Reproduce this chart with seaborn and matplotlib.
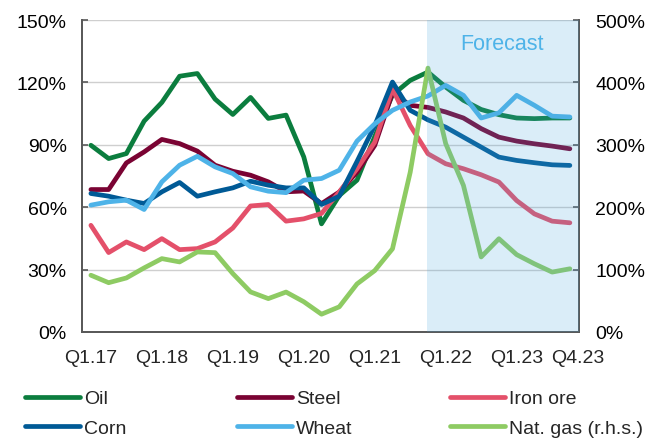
"""Commodity price index chart with forecast shading."""

import matplotlib.pyplot as plt
import pandas as pd
import seaborn as sns
from matplotlib.lines import Line2D
from matplotlib.ticker import FuncFormatter, MultipleLocator

# Quarterly values, Q1.17 .. Q4.23 (28 quarters), % of base.
quarters = [f"Q{q}.{y}" for y in range(17, 24) for q in range(1, 5)]
oil = [89.8, 83.4, 85.8, 101.4, 110.4, 123.0, 124.3, 112.0, 104.6, 112.8,
       102.7, 104.3, 84.2, 52.0, 65.6, 73.0, 94.0, 114.0, 121.0, 125.0,
       117.8, 111.4, 107.0, 104.5, 102.9, 102.6, 102.9, 102.9]
steel = [68.5, 68.5, 81.3, 86.6, 92.6, 90.6, 87.0, 80.2, 77.3, 75.4,
         72.2, 67.4, 67.8, 61.7, 67.3, 76.9, 89.7, 115.0, 109.0, 108.0,
         105.8, 102.9, 97.8, 93.7, 91.8, 90.5, 89.4, 88.1]
iron_ore = [51.3, 38.2, 43.3, 39.6, 44.9, 39.6, 40.1, 43.3, 50.0, 60.6,
            61.3, 53.3, 54.4, 57.0, 67.3, 78.5, 91.3, 117.0, 99.3, 85.7,
            80.9, 78.5, 75.6, 72.1, 63.2, 56.8, 53.3, 52.5]
corn = [66.6, 65.3, 63.4, 61.8, 67.4, 71.9, 65.3, 67.4, 69.3, 72.5,
        70.6, 69.3, 69.3, 61.3, 65.3, 82.0, 99.3, 120.2, 106.6, 102.0,
        98.5, 93.7, 88.9, 84.1, 82.5, 81.4, 80.4, 80.1]
wheat = [61.0, 62.6, 63.4, 58.9, 72.2, 80.2, 84.5, 79.4, 76.2, 69.8,
         67.7, 67.0, 73.0, 73.8, 77.8, 91.8, 100.1, 106.6, 110.6, 113.5,
         118.6, 113.8, 102.9, 105.4, 113.8, 109.0, 103.8, 103.4]
# Right-hand scale.
nat_gas = [91.0, 79.0, 86.6, 102.7, 117.6, 112.3, 128.3, 127.2, 93.6, 64.2,
           53.5, 64.0, 48.5, 28.5, 40.3, 77.0, 98.4, 133.3, 256.0, 423.0,
           302.0, 235.0, 120.3, 149.5, 124.0, 109.3, 96.0, 101.3]

left_names = ["Oil", "Steel", "Iron ore", "Corn", "Wheat"]
left_values = [oil, steel, iron_ore, corn, wheat]
colors = {
    "Oil": "#0b7d3e",
    "Steel": "#7a0333",
    "Iron ore": "#e4506a",
    "Corn": "#005a96",
    "Wheat": "#4eb3e8",
    "Nat. gas (r.h.s.)": "#8ecb63",
}

label_idx = [0, 4, 8, 12, 16, 20, 24, 27]
forecast_start = 18.93

rows = []
for name, vals in zip(left_names, left_values):
    for i, v in enumerate(vals):
        rows.append({"idx": i, "value": v, "series": name})
df = pd.DataFrame(rows)
gas_df = pd.DataFrame({"idx": range(len(nat_gas)), "value": nat_gas})

sns.set_theme(style="white")
plt.rcParams["font.family"] = ["Liberation Sans", "DejaVu Sans"]

fig = plt.figure(figsize=(6.51, 4.39), dpi=100)
ax = fig.add_axes([0.126, 0.2415, 0.763, 0.7105])
ax2 = ax.twinx()

lw = 3.4
sns.lineplot(data=df, x="idx", y="value", hue="series", hue_order=left_names,
             palette=colors, linewidth=lw, legend=False, ax=ax)
sns.lineplot(data=gas_df, x="idx", y="value", color=colors["Nat. gas (r.h.s.)"],
             linewidth=lw, ax=ax2)

# Forecast shading sits over the lines.
ax2.axvspan(forecast_start, 27.5, color="#4aa6dd", alpha=0.2, lw=0, zorder=5)
ax2.text(23.2, 462, "Forecast", color="#4eb3e8", fontsize=15.5,
         ha="center", va="center", zorder=6)

ax.set_xlim(-0.5, 27.5)
ax.set_ylim(0, 150)
ax2.set_ylim(0, 500)
ax.yaxis.set_major_locator(MultipleLocator(30))
ax2.yaxis.set_major_locator(MultipleLocator(100))
pct = FuncFormatter(lambda v, _: f"{v:.0f}%")
ax.yaxis.set_major_formatter(pct)
ax2.yaxis.set_major_formatter(pct)

# Tick marks between quarters, labels centred on the quarters.
ax.set_xticks([i - 0.5 for i in label_idx[:-1]])
ax.set_xticklabels([])
label_pos = label_idx[:-1] + [27.45]  # last label nudged right, as in source
ax.set_xticks(label_pos, minor=True)
ax.set_xticklabels([quarters[i] for i in label_idx], minor=True)

ax.grid(axis="y", color="#cfcfcf", linewidth=1)
ax.set_axisbelow(True)
ax.set_xlabel("")
ax.set_ylabel("")
ax2.set_ylabel("")

for a in (ax, ax2):
    for side in ("left", "right", "bottom"):
        a.spines[side].set_color("#595959")
        a.spines[side].set_linewidth(1.3)
    a.spines["top"].set_visible(False)
    a.tick_params(direction="in", length=4, width=1.2, color="#595959",
                  labelsize=14, labelcolor="black")
ax.tick_params(axis="x", which="minor", length=0, pad=12, labelsize=14)
ax.tick_params(axis="y", pad=11, right=False)
ax2.tick_params(axis="y", pad=12, left=False)

# Legend: three columns, each a small legend of two entries.
legend_cols = [["Oil", "Corn"], ["Steel", "Wheat"],
               ["Iron ore", "Nat. gas (r.h.s.)"]]
col_x = [25, 237, 450]
for names, x0 in zip(legend_cols, col_x):
    handles = [Line2D([], [], color=colors[n], linewidth=lw,
                      solid_capstyle="round") for n in names]
    fig.legend(handles, names, loc="lower left",
               bbox_to_anchor=(x0 / 651, 0.002), frameon=False, fontsize=14,
               handlelength=2.85, handletextpad=0.2, labelspacing=0.62,
               borderpad=0, borderaxespad=0)

fig.savefig("out.png", dpi=100, facecolor="white")
plt.close(fig)
